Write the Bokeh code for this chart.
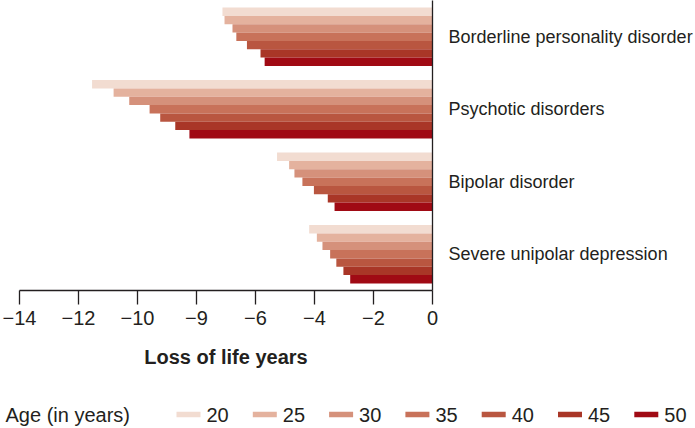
from bokeh.plotting import figure
from bokeh.models import Range1d, FixedTicker, ColumnDataSource
from bokeh.core.properties import value
from bokeh.embed import file_html
from bokeh.resources import INLINE
import numpy as np

# ---- data ----
categories = ["Borderline personality disorder", "Psychotic disorders",
              "Bipolar disorder", "Severe unipolar depression"]
ages = ["20", "25", "30", "35", "40", "45", "50"]
age20 = [-7.12, -11.54, -5.27, -4.18]
age25 = [-7.05, -10.81, -4.86, -3.92]
age30 = [-6.78, -10.28, -4.68, -3.73]
age35 = [-6.65, -9.59, -4.41, -3.47]
age40 = [-6.29, -9.23, -4.02, -3.26]
age45 = [-5.83, -8.72, -3.55, -3.02]
age50 = [-5.69, -8.24, -3.32, -2.79]
series = [age20, age25, age30, age35, age40, age45, age50]
x_ticks = [-14, -12, -10, -8, -6, -4, -2, 0]
x_tick_labels = ["\u221214", "\u221212", "\u221210", "\u22129", "\u22126", "\u22124", "\u22122", "0"]
axis_title = "Loss of life years"
legend_title = "Age (in years)"

colors = ["#f2dcd1", "#e4b29e", "#d5917b", "#c8725a", "#b95640", "#a93627", "#a00a14"]
TXT = "#231f20"
FONT = "Liberation Sans"
FS_CAT = "18px"
FS = "20px"

W = 695
H1 = 385
H2 = 428 - H1

p = figure(width=W, height=H1, output_backend="svg", toolbar_location=None,
           x_range=Range1d(-14, 0), y_range=Range1d(4, 0),
           y_axis_location="right",
           min_border_left=19, min_border_right=263, min_border_top=0, min_border_bottom=H1 - 290)
p.outline_line_color = None
p.xgrid.visible = False
p.ygrid.visible = False
p.background_fill_color = "white"
p.border_fill_color = "white"

n = len(ages)
bar_h = 0.805 / n
cat_idx = np.arange(len(categories))
for j, (vals, col) in enumerate(zip(series, colors)):
    ypos = cat_idx + 0.5 + (j - (n - 1) / 2) * bar_h
    p.hbar(y=ypos, left=vals, right=0, height=bar_h, fill_color=col, line_color=None)

# x axis
xa = p.xaxis[0]
xa.ticker = FixedTicker(ticks=x_ticks)
xa.major_label_overrides = {t: l for t, l in zip(x_ticks, x_tick_labels)}
xa.minor_tick_line_color = None
xa.major_tick_in = 0
xa.major_tick_out = 14
xa.major_tick_line_color = TXT
xa.major_tick_line_width = 1.3
xa.axis_line_color = TXT
xa.axis_line_width = 1.3
xa.major_label_text_font = FONT
xa.major_label_text_font_size = FS
xa.major_label_text_color = TXT
xa.major_label_standoff = 6
xa.axis_label = axis_title
xa.axis_label_text_font = FONT
xa.axis_label_text_font_size = FS
xa.axis_label_text_font_style = "bold"
xa.axis_label_text_color = TXT
xa.axis_label_standoff = 18

# right axis with category names
ya = p.yaxis[0]
ya.ticker = FixedTicker(ticks=list(cat_idx + 0.5))
ya.major_label_overrides = {float(i + 0.5): c for i, c in enumerate(categories)}
ya.major_tick_line_color = None
ya.major_tick_in = 0
ya.major_tick_out = 0
ya.minor_tick_line_color = None
ya.minor_tick_in = 0
ya.minor_tick_out = 0
ya.axis_line_color = TXT
ya.axis_line_width = 1.3
ya.major_label_standoff = 16
ya.major_label_text_font = FONT
ya.major_label_text_font_size = FS_CAT
ya.major_label_text_color = TXT

# ---- legend strip (separate root, full-width frame) ----
q = figure(width=W, height=H2, output_backend="svg", toolbar_location=None,
           x_range=Range1d(0, W), y_range=Range1d(H2, 0),
           x_axis_location=None, y_axis_location=None,
           min_border_left=0, min_border_right=0, min_border_top=0, min_border_bottom=0)
q.grid.visible = False
q.outline_line_color = None
q.background_fill_color = "white"
q.border_fill_color = "white"

row_y = 29          # legend row centre within strip (px from strip top)
first_swatch = 176  # left edge of first swatch
stride = 76.3
sw_w, sw_h = 24, 5.5
idx = np.arange(n)
lefts = first_swatch + idx * stride
src = ColumnDataSource(dict(x=lefts + sw_w / 2, y=np.full(n, row_y), c=colors,
                            tx=lefts + 30, t=ages))
q.rect(x="x", y="y", width=sw_w, height=sw_h, fill_color="c", line_color=None, source=src)
q.text(x="tx", y="y", text="t", source=src, text_font=value(FONT), text_font_size=value(FS),
       text_color=TXT, text_baseline="middle", text_align="left")
q.text(x=[5], y=[row_y], text=[legend_title], text_font=value(FONT), text_font_size=value(FS),
       text_color=TXT, text_baseline="middle", text_align="left")

open("out.html", "w").write(file_html([p, q], INLINE))
